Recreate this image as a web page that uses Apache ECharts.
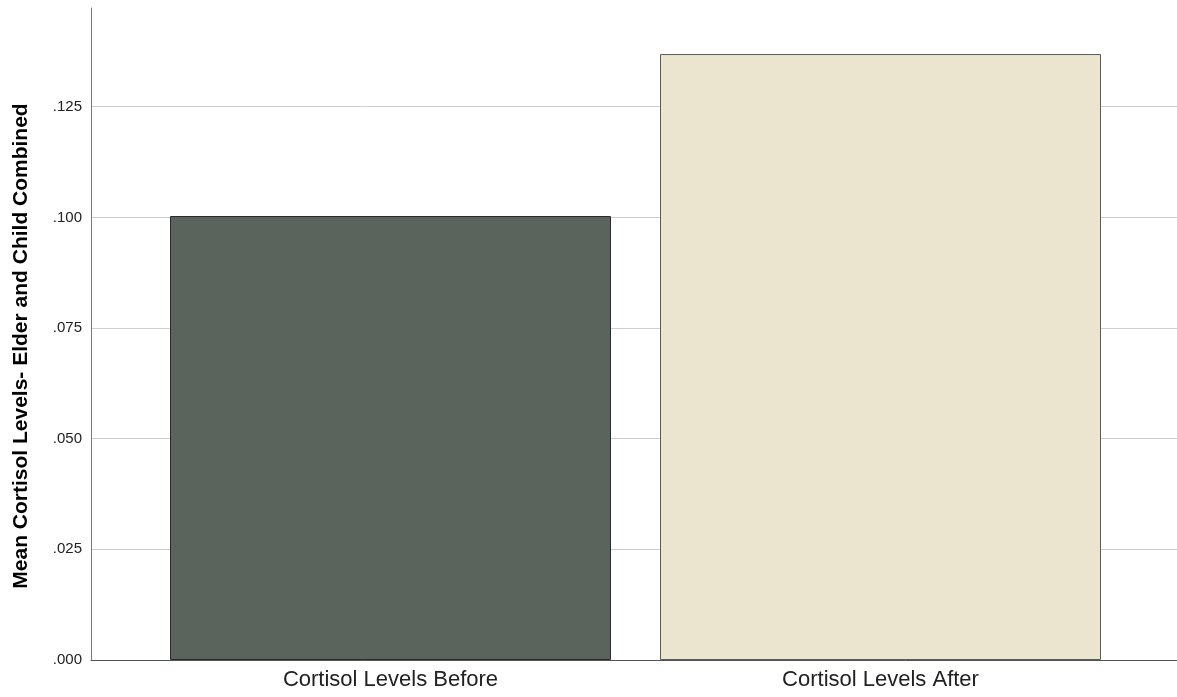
<!DOCTYPE html>
<html>
<head>
<meta charset="utf-8">
<script src="https://cdn.jsdelivr.net/npm/echarts@6/dist/echarts.min.js"></script>
<style>
  html, body { margin: 0; padding: 0; background: #fff; }
  #chart { width: 1177px; height: 697px; }
</style>
</head>
<body>
<div id="chart"></div>
<script>
const categories = ['Cortisol Levels Before', 'Cortisol Levels After'];
const meanCortisol = [0.1003, 0.1369];
const barColors = ['#5a635c', '#ebe4cf'];
const barBorders = ['#2a2a2a', '#5a5a5a'];
const yAxisTitle = 'Mean Cortisol Levels- Elder and Child Combined';
const yMax = 0.1473;

const chart = echarts.init(document.getElementById('chart'), null, { renderer: 'canvas' });

const font = '"Liberation Sans", Arial, sans-serif';

const option = {
    animation: false,
    grid: [
        // frame: axis lines and gridlines
        { left: 91, right: 0, top: 8, bottom: 37 },
        // bars, offset like SPSS
        { left: 145.5, width: 980, top: 8, bottom: 37 },
    ],
    xAxis: [
        {
            gridIndex: 0,
            type: 'value',
            min: 0,
            max: 1,
            axisLine: { show: true, lineStyle: { color: '#555', width: 1 } },
            axisTick: { show: false },
            axisLabel: { show: false },
            splitLine: { show: false },
        },
        {
            gridIndex: 1,
            type: 'category',
            data: categories,
            axisLine: { show: false },
            axisTick: { show: false },
            axisLabel: { color: '#222', fontSize: 22, fontFamily: font, margin: 9 },
        },
    ],
    yAxis: [
        {
            gridIndex: 0,
            type: 'value',
            min: 0,
            max: yMax,
            interval: 0.025,
            name: yAxisTitle,
            nameLocation: 'middle',
            nameRotate: 90,
            nameGap: 59,
            nameTextStyle: {
                color: '#000',
                fontSize: 21,
                fontWeight: 'bold',
                fontFamily: font,
                padding: [0, 24, 0, 0],
            },
            axisLine: { show: true, lineStyle: { color: '#777', width: 1 } },
            axisTick: { show: false },
            axisLabel: {
                color: '#222',
                fontSize: 15,
                fontFamily: font,
                margin: 9,
                showMaxLabel: false,
                formatter: (v) => v.toFixed(3).replace(/^0/, ''),
            },
            splitLine: {
                show: true,
                showMinLine: false,
                showMaxLine: false,
                lineStyle: { color: '#cfcfcf', width: 1 },
            },
        },
        {
            gridIndex: 1,
            type: 'value',
            min: 0,
            max: yMax,
            show: false,
        },
    ],
    series: [
        {
            type: 'bar',
            xAxisIndex: 1,
            yAxisIndex: 1,
            barWidth: 441,
            data: meanCortisol.map((v, i) => ({
                value: v,
                itemStyle: { color: barColors[i], borderColor: barBorders[i], borderWidth: 1 },
            })),
        },
    ],
};

chart.setOption(option);
</script>
</body>
</html>
